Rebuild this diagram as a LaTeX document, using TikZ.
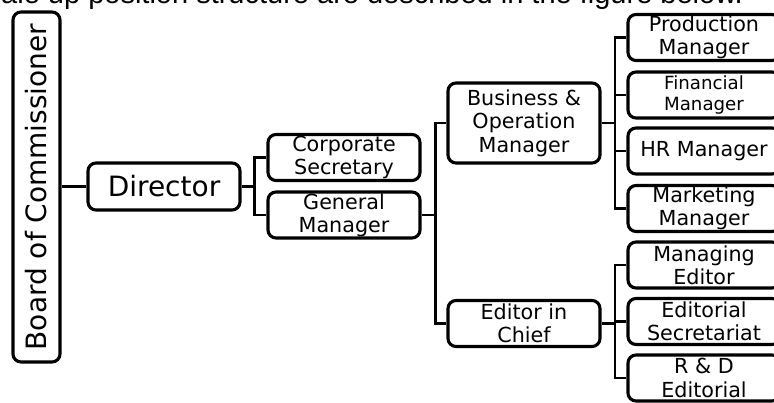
\documentclass[tikz,border=0pt]{standalone}
\usepackage{fontspec}
\setmainfont{DejaVu Sans}
\newfontfamily\headfam{Liberation Sans}
\usepackage{tikz}
\usetikzlibrary{positioning, calc}
\newcommand{\orgbig}{\fontsize{28}{32}\selectfont}
\newcommand{\orgtext}{\fontsize{20.7}{23.3}\selectfont}
\newcommand{\orgsmall}{\fontsize{18.2}{21}\selectfont}
\tikzset{
  orgbox/.style={draw, line width=3.1pt, rounded corners=8pt, minimum width=152pt,
                 minimum height=46pt, inner sep=0pt, align=center, font=\orgtext},
  orglink/.style={line width=2.2pt}
}

\begin{document}
\begin{tikzpicture}[x=1pt, y=-1pt]
  % obszar rysunku (prawe pola wychodzą poza kadr)
  \useasboundingbox (0,0) rectangle (774,403);
  \clip (0,0) rectangle (774,403);
  % ucięta linia tekstu nad schematem
  \node[anchor=base east, inner sep=0pt, font=\headfam\fontsize{29}{32}\selectfont] (caption) at (743,4)
    {ale up position structure are described in the figure below.};
  % poziom 1--2
  \node[orgbox, rotate=90, minimum width=350pt, minimum height=47pt, font=\orgbig] (board) at (36.5,187) {Board of Commissioner};
  \node[orgbox, minimum height=47pt, font=\orgbig] (director) at (164,186.5) {Director};
  % poziom 3
  \node[orgbox] (corpsec) at (344,157.5) {Corporate\\Secretary};
  \node[orgbox] (genman)  at (344,215)   {General\\Manager};
  % poziom 4
  \node[orgbox, minimum height=80pt] (busop) at (524,123) {Business \&\\Operation\\Manager};
  \node[orgbox] (edchief) at (524,323.5) {Editor in\\Chief};
  % poziom 5
  \node[orgbox] (prod)  at (704,37.5)  {Production\\Manager};
  \node[orgbox, font=\orgsmall] (fin) at (704,95) {Financial\\Manager};
  \node[orgbox] (hr)    at (704,151)   {HR Manager};
  \node[orgbox] (mkt)   at (704,208.5) {Marketing\\Manager};
  \node[orgbox] (maned) at (704,265)   {Managing\\Editor};
  \node[orgbox] (edsec) at (704,321.5) {Editorial\\Secretariat};
  \node[orgbox] (rnd)   at (704,378)   {R \& D\\Editorial};
  % połączenia
  \draw[orglink] (board.south |- director.west) -- (director.west);
  \draw[orglink] (director.east) -- ++(13,0) coordinate (jdir);
  \foreach \n in {corpsec,genman}{\draw[orglink] (jdir) |- (\n.west);}
  \draw[orglink] (genman.east) -- ++(14,0) coordinate (jgen);
  \foreach \n in {busop,edchief}{\draw[orglink] (jgen) |- (\n.west);}
  \draw[orglink] (busop.east) -- ++(13.5,0) coordinate (jbus);
  \foreach \n in {prod,fin,hr,mkt}{\draw[orglink] (jbus) |- (\n.west);}
  \draw[orglink] (edchief.east) -- ++(13.5,0) coordinate (jed);
  \foreach \n in {maned,edsec,rnd}{\draw[orglink] (jed) |- (\n.west);}
\end{tikzpicture}
\end{document}
